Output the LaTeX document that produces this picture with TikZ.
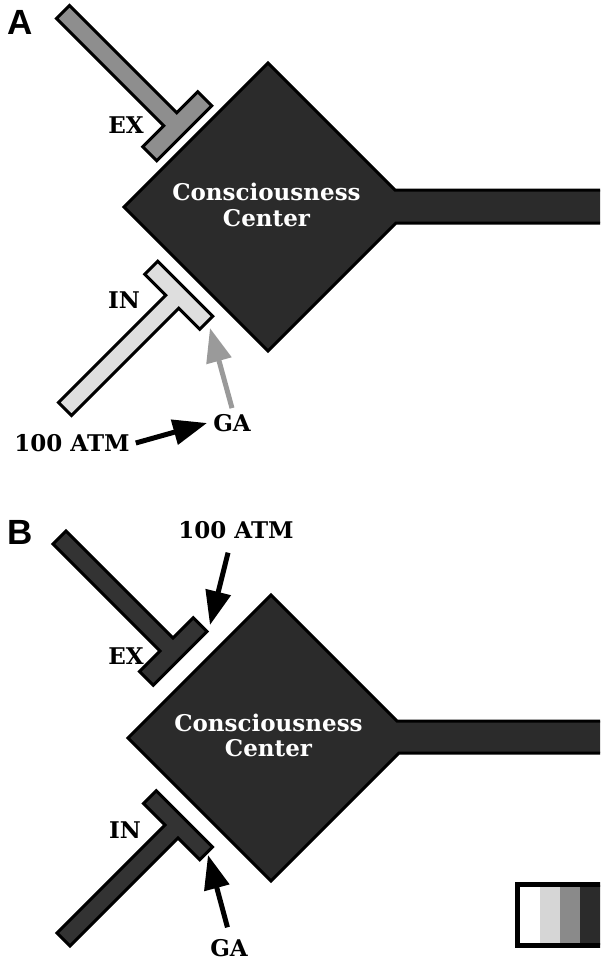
\documentclass[tikz,border=0pt]{standalone}
\usepackage{fontspec}
\setmainfont{DejaVu Serif}
\newfontfamily\panelfont{Liberation Sans}
\usetikzlibrary{arrows.meta}
\definecolor{cellfill}{HTML}{2B2B2B}
\definecolor{exgray}{HTML}{8E8E8E}
\definecolor{inlight}{HTML}{DEDEDE}
\definecolor{arrowgray}{HTML}{9A9A9A}
\definecolor{termdark}{HTML}{333333}
\definecolor{barlight}{HTML}{D6D6D6}
\definecolor{barmid}{HTML}{8A8A8A}
\begin{document}
\begin{tikzpicture}[x=1pt,y=-1pt,
  outline/.style={draw=black, line width=3pt, line join=miter},
  cellbody/.style={outline, fill=cellfill},
  tag/.style={font=\fontsize{23}{25}\selectfont\bfseries, inner sep=6pt},
  centertext/.style={text=white, align=center, inner sep=0pt,
    font=\fontsize{23}{25.5}\selectfont\bfseries},
  panel/.style={font=\panelfont\fontsize{35}{35}\selectfont\bfseries, inner sep=0pt},
  push/.style={line width=5pt, -{Triangle[length=34pt,width=25pt]}},
]
\useasboundingbox (0,0) rectangle (600,960);
\clip (0,0) rectangle (600,960);

% ---------------- panel A ----------------
\node[panel] (panelA) at (20,22) {A};

% consciousness center with its output axon
\draw[cellbody] (268,63) -- (395,190) -- (612,190) -- (612,223) -- (396,223)
  -- (268,351) -- (124,207) -- cycle;
\node[centertext] (ccA) at (266.5,205) {Consciousness\\Center};

% excitatory terminal
\draw[outline, fill=exgray] (56.5,18.5) -- (69.5,5.5) -- (176.75,112.75)
  -- (197.75,91.75) -- (211.75,105.75) -- (156.75,160.75) -- (142.75,146.75)
  -- (163.75,125.75) -- cycle;
% inhibitory terminal
\draw[outline, fill=inlight] (58.5,402.5) -- (71.5,415.5) -- (178.75,308.25)
  -- (199.75,329.25) -- (212.75,316.25) -- (157.75,261.25) -- (144.75,274.25)
  -- (165.75,295.25) -- cycle;

\node[tag] (exA) at (126,125) {EX};
\node[tag] (inA) at (124,300) {IN};
\node[tag] (gaA) at (232,423) {GA};
\node[tag] (atmA) at (72,443) {100 ATM};

\coordinate (inTipA) at (210,328);
\draw[push, arrowgray] (gaA.north) -- (inTipA);
\draw[push] (atmA.east) -- (gaA.west);

% ---------------- panel B ----------------
\node[panel] (panelB) at (20,532) {B};

\draw[cellbody] (271,595) -- (397,721) -- (612,721) -- (612,753) -- (399,753)
  -- (271,881) -- (128,738) -- cycle;
\node[centertext] (ccB) at (268.5,735.5) {Consciousness\\Center};

\draw[outline, fill=termdark] (53,544) -- (66,531) -- (173,638)
  -- (193.25,617.75) -- (207,631.5) -- (153.25,685.25) -- (139.5,671.5)
  -- (160,651) -- cycle;
\draw[outline, fill=termdark] (57,933) -- (70,946) -- (178,838)
  -- (199.75,859.75) -- (212.5,847) -- (156.25,790.75) -- (143.5,803.5)
  -- (165,825) -- cycle;

\node[tag] (exB) at (126,656) {EX};
\node[tag] (inB) at (125,830) {IN};
\node[tag] (atmB) at (236,530) {100 ATM};
\node[tag] (gaB) at (229,948) {GA};

\coordinate (exTipB) at (210,625);
\coordinate (inTipB) at (208,855);
\draw[push, shorten <=8pt] ([xshift=-6pt]atmB.south) -- (exTipB);
\draw[push, shorten <=6pt] (gaB.north) -- (inTipB);

% grey-level key
\fill[white] (517,885) rectangle (540,945);
\fill[barlight] (540,885) rectangle (560,945);
\fill[barmid] (560,885) rectangle (580,945);
\fill[cellfill] (580,885) rectangle (610,945);
\draw[line width=5pt] (517.5,884.5) rectangle (612,945.5);
\end{tikzpicture}
\end{document}
